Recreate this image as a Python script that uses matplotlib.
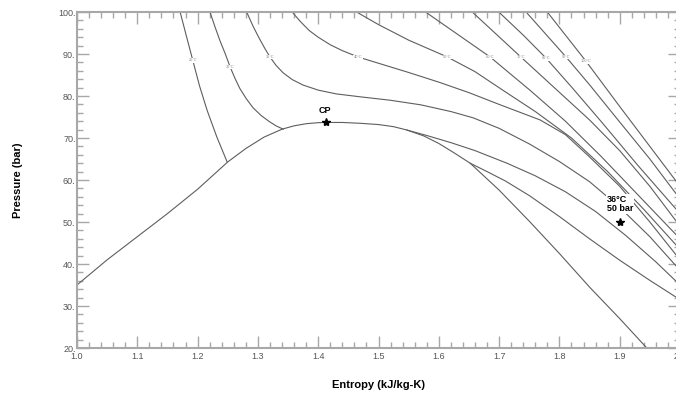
import matplotlib.pyplot as plt
from matplotlib.ticker import MultipleLocator, FuncFormatter

plt.rcParams['font.family'] = ['Liberation Sans', 'DejaVu Sans']

# saturation dome (liquid side -> critical point -> vapour side)
dome_s = [1.00, 1.05, 1.10, 1.15, 1.20, 1.25, 1.28, 1.31, 1.34, 1.36, 1.38, 1.40, 1.413,
          1.44, 1.47, 1.50, 1.525, 1.547, 1.575, 1.60, 1.625, 1.652, 1.70, 1.75,
          1.80, 1.85, 1.90, 1.945]
dome_p = [35.0, 41.0, 46.5, 52.0, 57.8, 64.3, 67.5, 70.2, 72.1, 72.9, 73.4, 73.65, 73.7,
          73.7, 73.5, 73.2, 72.7, 71.9, 70.5, 68.7, 66.5, 64.0, 57.6, 50.2,
          42.5, 34.5, 27.0, 20.0]

# isotherms: liquid branch + vapour branch for the subcritical ones
iso_temps = [25, 30, 35, 40, 50, 60, 70, 80, 90, 100]
iso_s = [
    ([1.171, 1.181, 1.192, 1.203, 1.216, 1.232, 1.249],
     [1.652, 1.68, 1.71, 1.75, 1.80, 1.85, 1.90, 1.95, 2.0]),
    ([1.221, 1.229, 1.237, 1.246, 1.254, 1.262, 1.270, 1.281, 1.292, 1.305,
      1.318, 1.330, 1.342],
     [1.547, 1.58, 1.62, 1.66, 1.713, 1.76, 1.81, 1.86, 1.91, 1.96, 2.0]),
    ([1.282, 1.292, 1.302, 1.312, 1.320, 1.330, 1.342, 1.357, 1.375, 1.40,
      1.43, 1.47, 1.519, 1.57, 1.62, 1.657, 1.70, 1.75, 1.80, 1.85, 1.90,
      1.95, 2.0],),
    ([1.358, 1.37, 1.385, 1.40, 1.42, 1.44, 1.466, 1.50, 1.55, 1.60, 1.65,
      1.70, 1.768, 1.81, 1.85, 1.90, 1.95, 2.0],),
    ([1.466, 1.50, 1.55, 1.614, 1.66, 1.706, 1.76, 1.82, 1.88, 1.94, 2.0],),
    ([1.580, 1.63, 1.685, 1.751, 1.81, 1.87, 1.93, 2.0],),
    ([1.657, 1.736, 1.796, 1.85, 1.90, 1.95, 2.0],),
    ([1.701, 1.74, 1.778, 1.821, 1.87, 1.93, 2.0],),
    ([1.746, 1.811, 1.851, 1.90, 1.95, 2.0],),
    ([1.781, 1.844, 1.90, 1.95, 2.0],),
]
iso_p = [
    ([100.0, 94.5, 88.5, 82.5, 76.5, 70.2, 64.3],
     [64.0, 62.0, 59.8, 56.3, 51.3, 46.0, 40.9, 36.1, 31.5]),
    ([99.8, 96.4, 93.2, 90.0, 86.9, 84.2, 81.8, 79.3, 77.2, 75.4,
      74.0, 72.9, 72.1],
     [71.9, 70.6, 68.9, 67.0, 64.0, 61.0, 57.2, 52.5, 46.8, 40.5, 35.0]),
    ([99.8, 96.6, 93.8, 91.2, 89.3, 87.3, 85.5, 83.9, 82.6, 81.4,
      80.5, 79.8, 79.0, 77.9, 76.3, 74.8, 72.3, 68.6, 64.4, 59.6, 53.5,
      46.5, 38.5],),
    ([99.8, 97.8, 95.6, 94.0, 92.2, 90.8, 89.3, 87.8, 85.6, 83.3, 80.8,
      78.0, 74.3, 70.8, 65.5, 58.5, 50.0, 41.0],),
    ([99.8, 97.0, 93.3, 89.3, 85.8, 81.4, 76.3, 70.0, 62.0, 53.0, 43.5],),
    ([99.8, 94.8, 89.3, 81.4, 74.0, 65.5, 56.5, 46.0],),
    ([99.8, 89.3, 81.4, 74.3, 67.0, 58.5, 49.0],),
    ([99.8, 94.5, 89.0, 82.0, 73.8, 63.5, 52.0],),
    ([99.8, 89.3, 82.5, 73.8, 65.0, 55.5],),
    ([99.8, 88.3, 77.5, 68.0, 58.5],),
]
# where the tiny temperature tags sit on each isotherm
tag_s = [1.192, 1.254, 1.320, 1.466, 1.614, 1.685, 1.736, 1.778, 1.811, 1.844]
tag_p = [88.5, 86.9, 89.3, 89.3, 89.3, 89.3, 89.3, 89.0, 89.3, 88.3]

cp_s, cp_p = 1.413, 73.7
state_s, state_p = 1.90, 50.0

line_col = '#5e5e5e'
fig = plt.figure(figsize=(6.76, 3.94), dpi=100)
ax = fig.add_axes([77 / 676, 1 - 348 / 394, 603 / 676, 336 / 394])

ax.plot(dome_s, dome_p, color=line_col, lw=0.8)
for k in range(len(iso_temps)):
    for s_branch, p_branch in zip(iso_s[k], iso_p[k]):
        ax.plot(s_branch, p_branch, color=line_col, lw=0.8)
    ax.text(tag_s[k], tag_p[k], f"{iso_temps[k]}°C", fontsize=2.8, color='#8a8a8a',
            ha='center', va='center',
            bbox=dict(facecolor='white', edgecolor='none', pad=0.3))

ax.plot([cp_s], [cp_p], marker='*', color='black', ms=6, ls='none')
ax.text(cp_s - 0.002, cp_p + 2.9, "CP", fontsize=6.5, fontweight='bold',
        ha='center', va='center')

ax.plot([state_s], [state_p], marker='*', color='black', ms=6, ls='none', zorder=5)
ax.text(1.879, 54.3, "36°C\n50 bar", fontsize=6.5, fontweight='bold',
        ha='left', va='center', linespacing=1.1, zorder=4,
        bbox=dict(facecolor='white', edgecolor='none', pad=0.5))

ax.set_xlim(1.0, 2.0)
ax.set_ylim(20, 100)
ax.xaxis.set_major_locator(MultipleLocator(0.1))
ax.xaxis.set_minor_locator(MultipleLocator(0.02))
ax.yaxis.set_major_locator(MultipleLocator(10))
ax.yaxis.set_minor_locator(MultipleLocator(2))
ax.xaxis.set_major_formatter(FuncFormatter(lambda v, _: f"{v:.1f}"))
ax.yaxis.set_major_formatter(FuncFormatter(lambda v, _: f"{v:.0f}."))

for sp in ax.spines.values():
    sp.set_color('#a8a8a8')
    sp.set_linewidth(1.5)
ax.tick_params(which='both', direction='in', top=True, right=True,
               color='#a8a8a8', width=1.0, labelsize=6.5, labelcolor='#555555')
ax.tick_params(which='major', length=8.5)
ax.tick_params(which='minor', length=4)
ax.tick_params(axis='x', pad=3)
ax.tick_params(axis='y', pad=1)

ax.set_xlabel("Entropy (kJ/kg-K)", fontsize=8, fontweight='bold')
ax.set_ylabel("Pressure (bar)", fontsize=8, fontweight='bold')
ax.xaxis.set_label_coords(0.5, -0.095)
ax.yaxis.set_label_coords(-0.09, 0.5)

fig.savefig("out.png", dpi=100)
